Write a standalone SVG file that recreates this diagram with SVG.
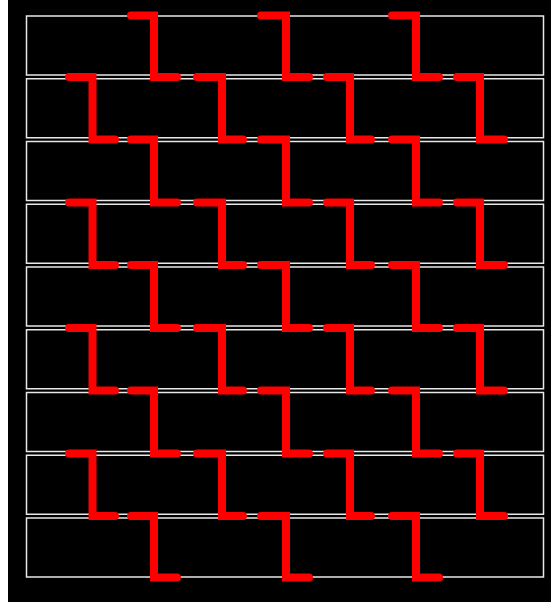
<svg xmlns="http://www.w3.org/2000/svg" width="551" height="610" viewBox="0 0 551 610">
<style>
.row{fill:none;stroke:#e8e8e8;stroke-width:1.5}
.z{fill:none;stroke:#ff0000;stroke-width:8;stroke-linecap:round;stroke-linejoin:miter}
</style>
<rect x="0" y="0" width="551" height="610" fill="#ffffff"/>
<rect x="8" y="0" width="543" height="602" fill="#000000"/>
<g id="row1"><rect class="row" x="26.5" y="16" width="517" height="59"/></g>
<g id="row2"><rect class="row" x="26.5" y="78.75" width="517" height="59"/></g>
<g id="row3"><rect class="row" x="26.5" y="141.5" width="517" height="59"/></g>
<g id="row4"><rect class="row" x="26.5" y="204.25" width="517" height="59"/></g>
<g id="row5"><rect class="row" x="26.5" y="267" width="517" height="59"/></g>
<g id="row6"><rect class="row" x="26.5" y="329.75" width="517" height="59"/></g>
<g id="row7"><rect class="row" x="26.5" y="392.5" width="517" height="59"/></g>
<g id="row8"><rect class="row" x="26.5" y="455.25" width="517" height="59"/></g>
<g id="row9"><rect class="row" x="26.5" y="518" width="517" height="59"/></g>
<g id="connectors">
<path class="z" d="M131 15.5H154V76.9H177"/>
<path class="z" d="M261 15.5H286V76.9H309"/>
<path class="z" d="M392 15.5H416V76.9H439"/>
<path class="z" d="M69 76.9H92.5V139.6H115"/>
<path class="z" d="M197 76.9H222V139.6H243"/>
<path class="z" d="M327 76.9H350V139.6H371"/>
<path class="z" d="M457 76.9H480V139.6H504"/>
<path class="z" d="M131 139.6H154V202.4H177"/>
<path class="z" d="M261 139.6H286V202.4H309"/>
<path class="z" d="M392 139.6H416V202.4H439"/>
<path class="z" d="M69 202.4H92.5V265.1H115"/>
<path class="z" d="M197 202.4H222V265.1H243"/>
<path class="z" d="M327 202.4H350V265.1H371"/>
<path class="z" d="M457 202.4H480V265.1H504"/>
<path class="z" d="M131 265.1H154V327.9H177"/>
<path class="z" d="M261 265.1H286V327.9H309"/>
<path class="z" d="M392 265.1H416V327.9H439"/>
<path class="z" d="M69 327.9H92.5V390.6H115"/>
<path class="z" d="M197 327.9H222V390.6H243"/>
<path class="z" d="M327 327.9H350V390.6H371"/>
<path class="z" d="M457 327.9H480V390.6H504"/>
<path class="z" d="M131 390.6H154V453.4H177"/>
<path class="z" d="M261 390.6H286V453.4H309"/>
<path class="z" d="M392 390.6H416V453.4H439"/>
<path class="z" d="M69 453.4H92.5V516.1H115"/>
<path class="z" d="M197 453.4H222V516.1H243"/>
<path class="z" d="M327 453.4H350V516.1H371"/>
<path class="z" d="M457 453.4H480V516.1H504"/>
<path class="z" d="M131 516.1H154V577.5H177"/>
<path class="z" d="M261 516.1H286V577.5H309"/>
<path class="z" d="M392 516.1H416V577.5H439"/>
</g>
</svg>
